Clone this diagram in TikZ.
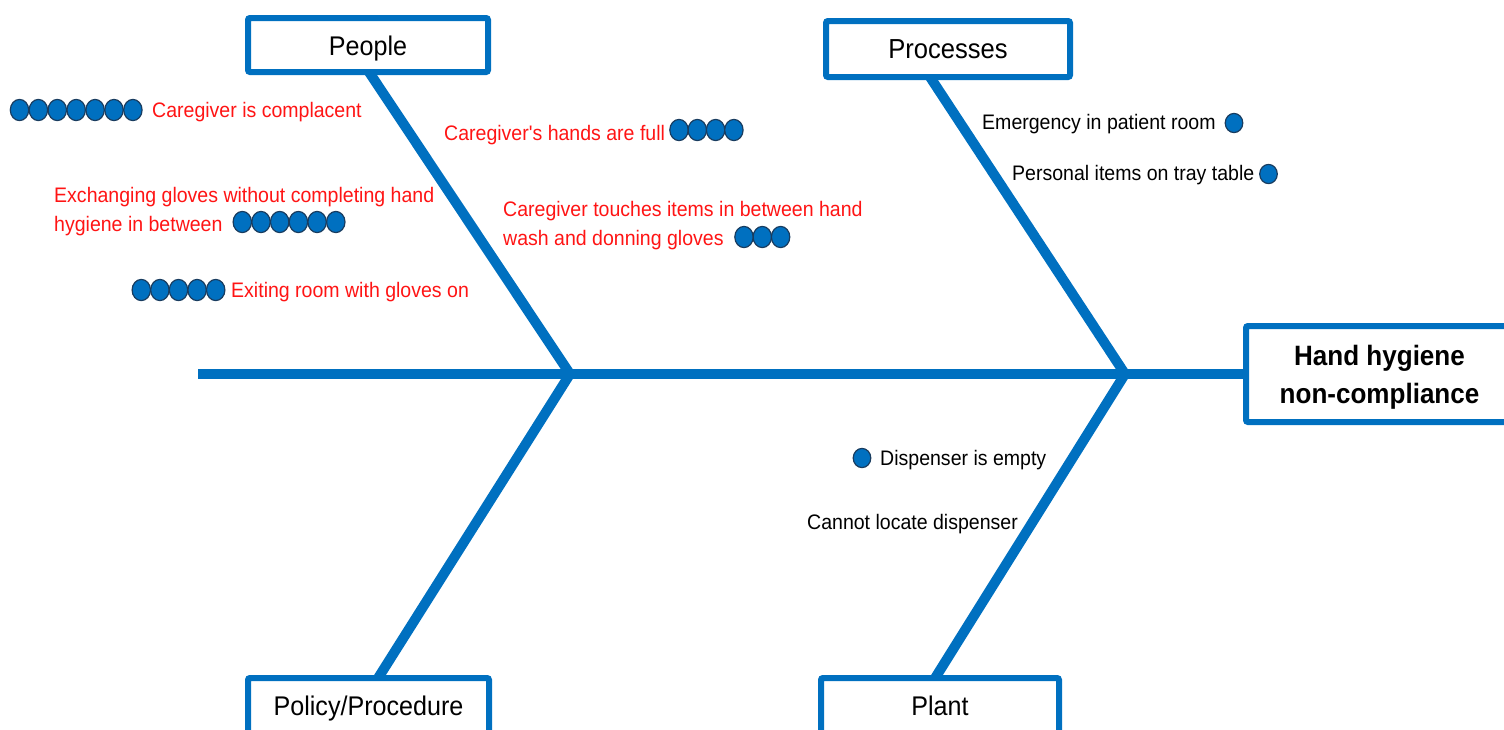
\documentclass[tikz,border=0pt]{standalone}
\usepackage{fontspec}
\setmainfont[FakeStretch=0.93,Ligatures=TeXOff]{Liberation Sans}
\usetikzlibrary{calc}
\definecolor{bone}{RGB}{0,112,192}
\definecolor{dotline}{RGB}{25,60,95}
\definecolor{causered}{RGB}{255,20,20}
\pgfdeclarelayer{bg}
\pgfsetlayers{bg,main}
\newcommand\mydotrow[4]{%
  \foreach \k in {1,...,#4}{\path[dotmark] ({#1+(\k-1)*#3},#2) ellipse [x radius=9.2, y radius=10.6];}}
\begin{document}
\begin{tikzpicture}[x=1pt,y=-1pt,
  bonestyle/.style={draw=bone,line width=10pt},
  catbox/.style={draw=bone,line width=6pt,fill=white,rounded corners=2pt,inner sep=0pt,
    text height=20pt,text depth=1pt,font=\fontsize{27}{32}\selectfont},
  cause/.style={anchor=base west,inner sep=0pt,font=\fontsize{21}{25}\selectfont},
  redcause/.style={cause,text=causered},
  blkcause/.style={cause,text=black},
  dotmark/.style={fill=bone,draw=dotline,line width=1.2pt}]
\useasboundingbox (0,0) rectangle (1504,729);

% category boxes
\node[catbox,minimum width=240pt,minimum height=54pt,text height=21pt] (people) at (368,45) {People};
\node[catbox,minimum width=244pt,minimum height=56pt,font=\fontsize{27.5}{32}\selectfont] (processes) at (948,49) {Processes};
\node[catbox,minimum width=241pt,minimum height=56pt] (policy) at (368.5,706) {Policy/Procedure};
\node[catbox,minimum width=238pt,minimum height=56pt] (plant) at (940,706) {Plant};
\node[draw=bone,line width=6pt,fill=white,rounded corners=2pt,inner sep=0pt,
      minimum width=267pt,minimum height=96pt] (effect) at (1379.5,374) {};
\node[inner sep=0pt,align=center,font=\fontsize{28}{38}\selectfont\bfseries]
      (effecttext) at (1379.5,377.5) {Hand hygiene\\non-compliance};

% junctions
\coordinate (tail) at (198,374);
\coordinate (jleft) at (570,374);
\coordinate (jright) at (1125,374);

\begin{pgfonlayer}{bg}
\draw[bonestyle] (tail) -- (effect.west);
\draw[bonestyle] (jleft) -- ($(jleft)!1.06!([xshift=3pt]people.south)$);
\draw[bonestyle] (jleft) -- ($(jleft)!1.06!([xshift=11.5pt]policy.north)$);
\draw[bonestyle] (jright) -- ($(jright)!1.06!([xshift=-16pt]processes.south)$);
\draw[bonestyle] (jright) -- ($(jright)!1.06!([xshift=-3pt]plant.north)$);
\end{pgfonlayer}

% People causes
\mydotrow{19.5}{110}{18.9}{7}
\node[redcause] (c1) at (152,117) {Caregiver is complacent};
\node[redcause] (c2) at (444,140) {Caregiver's hands are full};
\mydotrow{679}{130}{18.3}{4}
\node[redcause] (c3a) at (54,202) {Exchanging gloves without completing hand};
\node[redcause] (c3b) at (54,231) {hygiene in between};
\mydotrow{242.3}{222}{18.7}{6}
\node[redcause] (c4a) at (503,216) {Caregiver touches items in between hand};
\node[redcause] (c4b) at (503,245) {wash and donning gloves};
\mydotrow{744}{237}{18.3}{3}
\mydotrow{141.3}{290}{18.6}{5}
\node[redcause] (c5) at (231,297) {Exiting room with gloves on};

% Processes causes
\node[blkcause] (p1) at (982,129) {Emergency in patient room};
\path[dotmark] (1234,123) ellipse [x radius=8.8, y radius=9.6];
\node[blkcause] (p2) at (1012,180) {Personal items on tray table};
\path[dotmark] (1268.5,174) ellipse [x radius=8.8, y radius=9.6];

% Plant causes
\path[dotmark] (862,458) ellipse [x radius=8.8, y radius=9.6];
\node[blkcause] (q1) at (880,465) {Dispenser is empty};
\node[blkcause] (q2) at (807,529) {Cannot locate dispenser};
\end{tikzpicture}
\end{document}
